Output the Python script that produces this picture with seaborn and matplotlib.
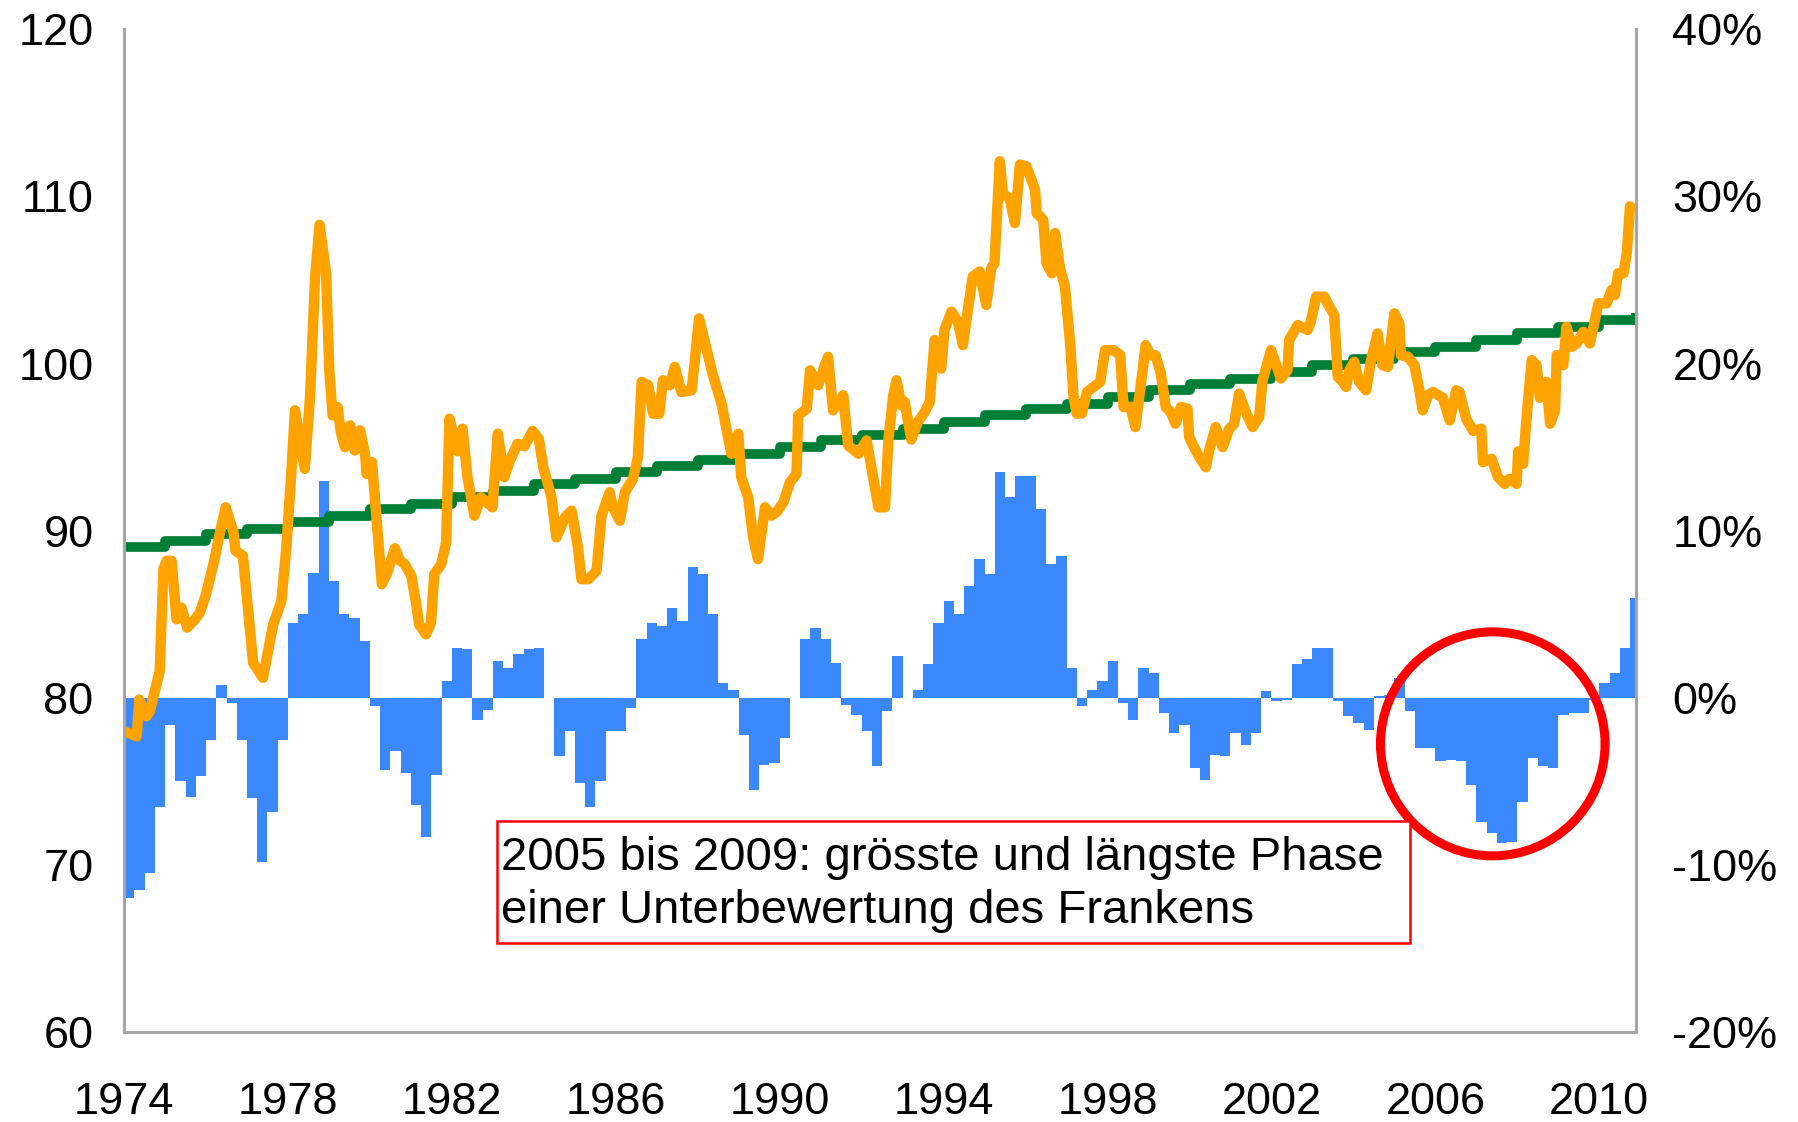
import numpy as np
import pandas as pd
import matplotlib
matplotlib.use("Agg")
import matplotlib.pyplot as plt
import seaborn as sns
from matplotlib.patches import Ellipse, Rectangle

index_years = [1974.0, 1974.31, 1974.37, 1974.55, 1974.63, 1974.75, 1974.87, 1974.96, 1975.04, 1975.16,
               1975.28, 1975.4, 1975.54, 1975.73, 1975.85, 1976.0, 1976.2, 1976.34, 1976.48, 1976.67,
               1976.72, 1976.9, 1977.15, 1977.39, 1977.64, 1977.84, 1977.96, 1978.09, 1978.17, 1978.41,
               1978.54, 1978.66, 1978.77, 1978.93, 1979.01, 1979.09, 1979.21, 1979.29, 1979.39, 1979.52,
               1979.63, 1979.76, 1979.88, 1979.92, 1980.05, 1980.29, 1980.41, 1980.61, 1980.74, 1980.85,
               1981.01, 1981.13, 1981.2, 1981.37, 1981.49, 1981.57, 1981.74, 1981.86, 1981.94, 1982.14,
               1982.26, 1982.38, 1982.55, 1982.71, 1982.99, 1983.12, 1983.28, 1983.4, 1983.6, 1983.77,
               1983.97, 1984.12, 1984.23, 1984.43, 1984.55, 1984.76, 1984.92, 1985.08, 1985.16, 1985.33,
               1985.53, 1985.65, 1985.85, 1985.93, 1986.1, 1986.22, 1986.42, 1986.54, 1986.63, 1986.79,
               1986.91, 1987.06, 1987.15, 1987.32, 1987.44, 1987.6, 1987.85, 1987.93, 1988.03, 1988.17,
               1988.37, 1988.58, 1988.7, 1988.82, 1988.99, 1989.06, 1989.23, 1989.35, 1989.47, 1989.64,
               1989.8, 1989.92, 1990.09, 1990.25, 1990.41, 1990.45, 1990.66, 1990.74, 1990.94, 1991.1,
               1991.18, 1991.3, 1991.55, 1991.67, 1991.92, 1992.12, 1992.28, 1992.41, 1992.57, 1992.65,
               1992.77, 1992.85, 1992.97, 1993.05, 1993.21, 1993.37, 1993.54, 1993.66, 1993.78, 1993.94,
               1994.02, 1994.19, 1994.35, 1994.47, 1994.59, 1994.71, 1994.88, 1995.04, 1995.16, 1995.24,
               1995.37, 1995.45, 1995.61, 1995.74, 1995.86, 1996.02, 1996.23, 1996.27, 1996.43, 1996.51,
               1996.64, 1996.72, 1996.84, 1996.96, 1997.09, 1997.17, 1997.25, 1997.37, 1997.5, 1997.66,
               1997.82, 1997.94, 1998.15, 1998.31, 1998.39, 1998.56, 1998.68, 1998.84, 1998.93, 1999.05,
               1999.17, 1999.3, 1999.42, 1999.54, 1999.66, 1999.79, 1999.95, 1999.99, 2000.11, 2000.24,
               2000.4, 2000.48, 2000.64, 2000.81, 2000.97, 2001.09, 2001.21, 2001.34, 2001.54, 2001.7,
               2001.78, 2001.99, 2002.23, 2002.39, 2002.43, 2002.64, 2002.88, 2002.96, 2003.09, 2003.29,
               2003.37, 2003.53, 2003.62, 2003.74, 2003.82, 2003.9, 2004.02, 2004.14, 2004.31, 2004.43,
               2004.59, 2004.71, 2004.84, 2005.0, 2005.12, 2005.16, 2005.33, 2005.49, 2005.61, 2005.69,
               2005.82, 2005.94, 2006.18, 2006.35, 2006.51, 2006.59, 2006.75, 2006.92, 2007.12, 2007.16,
               2007.37, 2007.53, 2007.69, 2007.81, 2007.98, 2008.02, 2008.14, 2008.22, 2008.35, 2008.47,
               2008.55, 2008.71, 2008.8, 2008.92, 2008.96, 2009.12, 2009.2, 2009.33, 2009.45, 2009.61,
               2009.77, 2009.9, 2009.98, 2010.18, 2010.3, 2010.38, 2010.46, 2010.59, 2010.67, 2010.75]
index_values = [78.0, 77.7, 79.9, 78.9, 79.2, 80.4, 81.6, 87.7, 88.2, 88.2,
                84.7, 85.4, 84.2, 84.7, 85.1, 86.2, 88.2, 89.9, 91.4, 89.9,
                88.8, 88.5, 82.1, 81.2, 84.4, 85.8, 89.0, 93.8, 97.2, 93.7,
                98.1, 105.1, 108.3, 105.4, 99.5, 96.9, 97.4, 95.9, 95.0, 96.3,
                94.8, 96.0, 94.6, 93.4, 94.1, 86.8, 87.4, 88.95, 88.2, 88.0,
                87.3, 85.6, 84.4, 83.8, 84.5, 87.4, 88.0, 89.3, 96.7, 94.75,
                96.1, 93.2, 90.9, 92.0, 91.4, 95.8, 93.2, 94.1, 95.2, 95.05,
                95.97, 95.5, 93.8, 92.0, 89.6, 90.8, 91.2, 88.95, 87.1, 87.1,
                87.6, 90.9, 92.3, 91.4, 90.6, 92.3, 93.1, 94.4, 98.9, 98.7,
                97.0, 97.0, 99.0, 98.7, 99.8, 98.3, 98.4, 100.2, 102.7, 101.3,
                99.3, 97.6, 96.1, 94.6, 95.8, 93.2, 92.0, 89.6, 88.3, 91.4,
                90.9, 91.1, 91.7, 92.9, 93.4, 96.9, 97.3, 99.6, 98.7, 99.9,
                100.4, 97.2, 98.1, 95.1, 94.6, 95.4, 93.2, 91.4, 91.4, 95.4,
                98.1, 99.0, 97.5, 97.7, 95.45, 96.5, 97.1, 97.7, 101.4, 99.7,
                102.0, 103.1, 102.5, 101.1, 103.2, 105.2, 105.5, 103.5, 105.7, 106.0,
                112.1, 110.1, 109.9, 108.4, 111.9, 111.8, 110.4, 109.0, 108.6, 106.0,
                105.4, 107.8, 105.7, 104.6, 101.1, 98.0, 97.0, 97.0, 98.3, 98.6,
                98.9, 100.8, 100.8, 100.5, 97.4, 97.4, 96.2, 99.3, 101.1, 100.5,
                100.5, 99.4, 97.4, 97.1, 96.4, 97.4, 97.3, 95.6, 95.0, 94.4,
                93.8, 94.8, 96.2, 95.0, 96.1, 96.4, 98.2, 97.3, 96.2, 96.8,
                98.96, 100.8, 99.1, 99.6, 101.4, 102.3, 102.0, 102.5, 104.0, 104.0,
                103.6, 102.9, 99.2, 98.9, 98.6, 99.6, 100.1, 98.9, 98.4, 100.2,
                101.8, 99.9, 99.8, 103.0, 102.4, 100.5, 100.4, 99.9, 98.4, 97.2,
                98.1, 98.3, 97.95, 96.6, 98.4, 98.3, 96.7, 95.97, 96.1, 94.1,
                94.3, 93.2, 92.8, 93.1, 92.8, 94.75, 94.0, 96.6, 100.2, 99.9,
                97.95, 98.9, 96.4, 97.2, 100.5, 99.9, 102.2, 101.0, 101.2, 101.9,
                101.2, 102.7, 103.6, 103.6, 104.4, 104.1, 105.4, 105.4, 106.6, 109.4]

# Long-run trend (yearly steps)
trend_years = list(range(1974, 2011)) + [2010.9]
trend_values = [89.0, 89.4, 89.8, 90.1, 90.5, 90.9, 91.3, 91.6, 92.0, 92.4,
                92.8, 93.1, 93.5, 93.9, 94.2, 94.6, 95.0, 95.4, 95.7, 96.1,
                96.5, 96.9, 97.3, 97.6, 98.0, 98.4, 98.8, 99.1, 99.5, 99.9,
                100.3, 100.7, 101.0, 101.4, 101.8, 102.2, 102.6, 103.0]

# Deviation from trend in %, one value per quarter starting 1974 Q1
deviation_pct = [-12.0, -11.5, -10.5, -6.5,
                 -1.6, -5.0, -5.9, -4.7,
                 -2.5, 0.8, -0.3, -2.5,
                 -6.0, -9.8, -6.8, -2.5,
                 4.5, 5.0, 7.5, 13.0,
                 7.0, 5.0, 4.8, 3.4,
                 -0.5, -4.3, -3.2, -4.5,
                 -6.4, -8.3, -4.6, 1.0,
                 3.0, 2.9, -1.3, -0.7,
                 2.2, 1.8, 2.6, 2.9,
                 3.0, 0.0, -3.5, -2.0,
                 -5.1, -6.5, -5.0, -2.0,
                 -2.0, -0.6, 3.5, 4.5,
                 4.3, 5.4, 4.6, 7.8,
                 7.4, 5.0, 0.9, 0.5,
                 -2.2, -5.5, -4.0, -3.9,
                 -2.4, 0.0, 3.5, 4.2,
                 3.5, 2.1, -0.4, -1.0,
                 -2.0, -4.1, -0.8, 2.5,
                 0.0, 0.5, 2.0, 4.5,
                 5.8, 5.0, 6.7, 8.3,
                 7.4, 13.5, 12.0, 13.3,
                 13.3, 11.3, 8.0, 8.5,
                 1.8, -0.5, 0.5, 1.0,
                 2.2, -0.3, -1.3, 1.8,
                 1.5, -0.9, -2.1, -1.6,
                 -4.2, -4.9, -3.4, -3.5,
                 -2.1, -2.8, -2.1, 0.4,
                 -0.2, -0.1, 2.0, 2.3,
                 3.0, 3.0, -0.2, -1.1,
                 -1.5, -1.9, 0.1, 0.2,
                 1.2, -0.8, -3.0, -3.0,
                 -3.8, -3.7, -3.8, -5.2,
                 -7.4, -8.1, -8.7, -8.6,
                 -6.2, -3.6, -4.1, -4.2,
                 -1.0, -0.9, -0.9, -0.1,
                 0.9, 1.5, 3.0, 6.0]
quarter_starts = 1974 + 0.25 * np.arange(len(deviation_pct))

year_ticks = list(range(1974, 2011, 4))
left_ticks = list(range(60, 121, 10))
right_ticks = list(range(-20, 41, 10))

note = "2005 bis 2009: grösste und längste Phase\neiner Unterbewertung des Frankens"

orange = "#FCA300"
green = "#027F36"
blue = "#3B87FC"
grey = "#A6A6A6"

sns.set_style("white")
plt.rcParams["font.family"] = ["Liberation Sans", "DejaVu Sans"]
plt.rcParams["text.color"] = "black"
plt.rcParams["xtick.color"] = "black"
plt.rcParams["ytick.color"] = "black"

fig = plt.figure(figsize=(17.98, 11.22), dpi=100)
ax = fig.add_axes([0.069, 0.080, 0.841, 0.894])
ax2 = ax.twinx()
ax.set_zorder(2)
ax.patch.set_visible(False)
ax2.set_zorder(1)

# bars on the right (percent) axis
ax2.bar(quarter_starts, deviation_pct, width=0.25, align="edge", color=blue, linewidth=0)

sns.lineplot(x=trend_years, y=trend_values, ax=ax, color=green, linewidth=7,
             drawstyle="steps-post", solid_capstyle="butt")
sns.lineplot(x=index_years, y=index_values, ax=ax, color=orange, linewidth=7.5,
             solid_joinstyle="round", solid_capstyle="round")

ax.set_xlim(1974, 2010.9)
ax.set_ylim(60, 120)
ax2.set_ylim(-20, 40)

ax.set_xticks(year_ticks)
ax.set_xticklabels([str(y) for y in year_ticks])
ax.set_yticks(left_ticks)
ax.set_yticklabels([str(v) for v in left_ticks])
ax2.set_yticks(right_ticks)
ax2.set_yticklabels([f"{v}%" for v in right_ticks])

ax.tick_params(axis="x", length=0, pad=36, labelsize=32.5, labelcolor="black")
ax.tick_params(axis="y", length=0, pad=22, labelsize=32.5, labelcolor="black")
ax2.tick_params(axis="y", length=0, pad=26, labelsize=32.5, labelcolor="black")
ax.set_xlabel("")
ax.set_ylabel("")

for a in (ax, ax2):
    a.spines["top"].set_visible(False)
    for s in ("left", "right", "bottom"):
        a.spines[s].set_color(grey)
        a.spines[s].set_linewidth(2.2)

# red circle around 2005-2009
ax.add_patch(Ellipse((2007.4, 77.25), width=5.48, height=13.4, fill=False,
                     edgecolor="#FF0000", linewidth=6.5, zorder=6))

# note box
ax.add_patch(Rectangle((1983.09, 65.35), 22.29, 7.27, facecolor="white",
                       edgecolor="#FF0000", linewidth=1.8, zorder=6))
ax.text(1983.2, 68.85, note, fontsize=34, ha="left", va="center", color="black",
        linespacing=1.25, zorder=7)

fig.savefig("out.png", dpi=100)
